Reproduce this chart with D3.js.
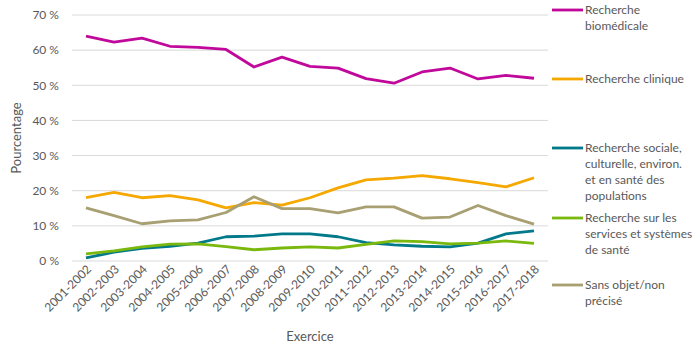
<!DOCTYPE html>
<html><head><meta charset="utf-8">
<script src="https://cdn.jsdelivr.net/npm/d3@7"></script>
<style>body{margin:0;background:#fff}svg{display:block}text{font-family:Lato,"Open Sans",sans-serif}</style>
</head><body><svg id="c" width="700" height="350"></svg>
<script>
const categories = ["2001-2002","2002-2003","2003-2004","2004-2005","2005-2006","2006-2007","2007-2008","2008-2009","2009-2010","2010-2011","2011-2012","2012-2013","2013-2014","2014-2015","2015-2016","2016-2017","2017-2018"];
const biomedicale = [64.0,62.3,63.4,61.1,60.8,60.2,55.2,58.0,55.4,54.9,51.9,50.6,53.8,54.9,51.8,52.8,52.0];
const clinique = [18.0,19.5,18.0,18.6,17.4,15.1,16.6,15.9,18.0,20.8,23.1,23.6,24.3,23.4,22.3,21.1,23.7];
const sociale = [0.9,2.5,3.6,4.2,5.1,6.9,7.1,7.7,7.7,6.9,5.2,4.6,4.2,4.0,5.1,7.7,8.6];
const services = [2.0,2.9,4.0,4.8,4.9,4.1,3.2,3.7,4.0,3.7,4.7,5.7,5.5,4.9,5.1,5.7,5.0];
const sansObjet = [15.1,12.9,10.6,11.4,11.7,13.8,18.3,14.9,14.9,13.7,15.4,15.4,12.2,12.5,15.8,12.9,10.5];
const yTicks = [0,10,20,30,40,50,60,70];
const seriesNames = [["Recherche","biomédicale"],["Recherche clinique"],["Recherche sociale,","culturelle, environ.","et en santé des","populations"],["Recherche sur les","services et systèmes","de santé"],["Sans objet/non","précisé"]];
const seriesData = [biomedicale, clinique, sociale, services, sansObjet];
const colors = ["#C0099B","#F5A800","#00798A","#7AB80E","#A89F72"];
const legendY = [10, 79, 148, 218, 285];

const svg = d3.select("#c");
const L = 72, R = 548, T = 15, B = 261;
const x = d3.scaleBand().domain(categories).range([L, R]);
const y = d3.scaleLinear().domain([0,70]).range([B, T]);

// gridlines
svg.append("g").selectAll("line").data(yTicks).join("line")
  .attr("x1", L).attr("x2", R).attr("y1", d=>y(d)).attr("y2", d=>y(d))
  .attr("stroke", "#d9d9d9").attr("stroke-width", 1);

// y labels
const yAxis = svg.append("g").attr("transform", `translate(${L},0)`)
  .call(d3.axisLeft(y).tickValues(yTicks).tickSize(0).tickPadding(13).tickFormat(d=>d+" %"));
yAxis.select(".domain").remove();
yAxis.selectAll("text").attr("font-size", 12).attr("fill", "#595959").style("font-family","Lato,'Open Sans',sans-serif");

// x labels
const xAxis = svg.append("g").attr("transform", `translate(0,${B})`)
  .call(d3.axisBottom(x).tickSize(0).tickPadding(0));
xAxis.select(".domain").remove();
xAxis.selectAll("text")
  .attr("font-size", 12).attr("fill", "#595959").style("font-family","Lato,'Open Sans',sans-serif")
  .attr("text-anchor", "end").attr("dy", null).attr("y", 0)
  .attr("transform", "translate(6,9) rotate(-45)");

// titles
svg.append("text").attr("x", (L+R)/2).attr("y", 341).attr("text-anchor","middle")
  .attr("font-size", 13).attr("fill", "#595959").text("Exercice");
svg.append("text").attr("transform", `translate(21,${(T+B)/2}) rotate(-90)`).attr("text-anchor","middle")
  .attr("font-size", 13).attr("fill", "#595959").text("Pourcentage");

// lines
const line = d3.line().x((d,i)=>x(categories[i]) + x.bandwidth()/2).y(d=>y(d));
seriesData.forEach((s, k) => {
  svg.append("path").datum(s).attr("d", line).attr("fill","none")
    .attr("stroke", colors[k]).attr("stroke-width", 2.8).attr("stroke-linejoin","round");
});

// legend
seriesNames.forEach((names, k) => {
  const g = svg.append("g");
  g.append("line").attr("x1", 552).attr("x2", 583).attr("y1", legendY[k]).attr("y2", legendY[k])
    .attr("stroke", colors[k]).attr("stroke-width", 2.8);
  names.forEach((t, j) => {
    g.append("text").attr("x", 585).attr("y", legendY[k] + j*16).attr("dy","0.35em")
      .attr("font-size", 12).attr("fill", "#595959").text(t);
  });
});
</script></body></html>
